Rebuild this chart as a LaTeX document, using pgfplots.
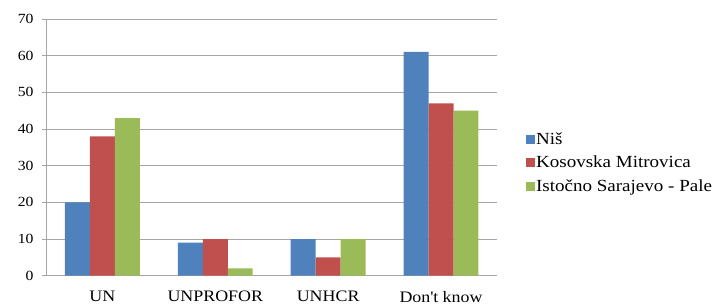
\documentclass[border=0pt]{standalone}
\usepackage{fontspec}
\setmainfont{Liberation Serif}[FakeStretch=1.12]
\usepackage{pgfplots}
\pgfplotsset{compat=1.18}
\definecolor{cblue}{HTML}{4F81BD}
\definecolor{cred}{HTML}{C0504D}
\definecolor{cgreen}{HTML}{9BBB59}
\definecolor{gridc}{HTML}{A6A6A6}
\begin{document}
\begin{tikzpicture}
\begin{axis}[
  scale only axis, width=452pt, height=257pt,
  ybar=0pt, bar width=25pt,
  xmin=-0.5, xmax=3.5, ymin=0, ymax=70,
  xtick=data, xticklabels={UN,UNPROFOR,UNHCR,Don\textquotesingle t know},
  ytick={0,10,...,70},
  axis x line*=bottom, axis y line*=left,
  axis line style={gridc, line width=0.8pt, -},
  ymajorgrids, grid style={gridc, line width=0.8pt},
  tick style={gridc, line width=0.8pt}, major tick length=4pt, tick align=outside,
  ytick pos=left, xtick style={draw=none},
  /pgf/number format/assume math mode=true,
  yticklabel style={font=\fontsize{14}{16}\selectfont, xshift=-5pt},
  xticklabel style={font=\fontsize{16}{18}\selectfont, yshift=-8pt},
  legend image code/.code={\fill[#1] (0pt,-4.5pt) rectangle (9.5pt,4.5pt);},
  legend style={at={(1,0.5)}, anchor=west, xshift=28pt, yshift=-15.5pt, draw=none, fill=none,
    inner sep=0pt, font=\fontsize{17}{19}\selectfont, row sep=6.5pt,
    nodes={inner xsep=1pt}},
  legend cell align=left,
]
\addplot[fill=cblue, draw=none] coordinates {(0,20) (1,9) (2,10) (3,61)};
\addplot[fill=cred, draw=none] coordinates {(0,38) (1,10) (2,5) (3,47)};
\addplot[fill=cgreen, draw=none] coordinates {(0,43) (1,2) (2,10) (3,45)};
\legend{Niš, Kosovska Mitrovica, Istočno Sarajevo - Pale}
\coordinate (O) at (rel axis cs:0,0);
\end{axis}
\path (O) ++(-46pt,-28pt) rectangle ++(713pt,304pt);
\end{tikzpicture}
\end{document}
